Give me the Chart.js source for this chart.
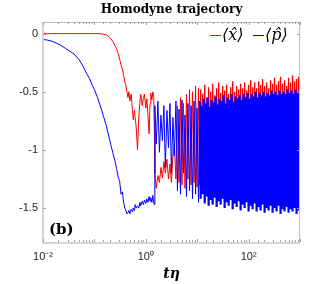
<!DOCTYPE html>
<html><head><meta charset="utf-8">
<script src="https://cdn.jsdelivr.net/npm/chart.js@4.4.0/dist/chart.umd.min.js"></script>
<style>html,body{margin:0;padding:0;background:#fff;}#wrap{width:332px;height:284px;position:relative;}</style>
</head><body><div id="wrap"><canvas id="c"></canvas></div>
<script>
// time axis t*eta (log scale)
const tEta = [
 0.01,0.012,0.015,0.018,0.022,0.027,0.033,0.04,0.05,0.06,0.07,0.08,0.09,0.1,0.115,0.13,0.15,0.17,0.19,0.21,0.23,0.25,0.27,0.29,0.31,0.33,0.35,0.37,0.39,0.41,0.43,
 0.45,0.47,0.49,0.52,0.55,0.57,0.6,0.62,0.65,0.69,0.73,0.77,0.8,0.85,0.9,0.94,1.0,1.05,1.1,1.16,1.21,1.25,1.31,1.37,1.43,1.47,
 1.5,1.6,1.72,1.84,1.97,2.1,2.25,2.4,2.58,2.76,2.95,3.15,3.37,3.6,3.86,4.13,4.42,4.73,5.06,5.4,5.8,6.2,6.6,7.1,7.6,8.1,8.7,9.3,9.9,10.6,
 11.2,11.7,12.2,12.8,13.4,14.0,14.6,15.3,16.0,16.7,17.5,18.3,19.1,20.0,20.9,21.9,22.9,23.9,25.0,26.2,27.4,28.6,29.9,31.3,32.7,34.2,35.8,37.4,39.1,40.9,
 42.8,44.8,46.8,49.0,51.2,53.5,56.0,58.6,61.2,64.0,67.0,70.0,73.2,76.6,80.1,83.8,87.6,91.6,95.8,100,105,110,115,120,125,131,137,143,150,157,
 164,171,179,187,196,205,214,224,234,245,256,268,280,293,306,320,335,350,366,383,400,419,438,458,479,501,524,548,573,599,
 626,655,685,716,749,783,819,856,895,936,979,1000
];
// -<x> (red)
const negX = [
 0,0,0,0,0,0,0,0,0,0,0,0,0,0,0,0,-0.005,-0.012,-0.025,-0.045,-0.07,-0.10,-0.13,-0.17,-0.22,-0.27,-0.30,-0.36,-0.41,-0.45,-0.50,
 -0.55,-0.50,-0.58,-0.52,-0.66,-0.74,-0.66,-0.72,-0.80,-1.00,-0.72,-0.58,-0.52,-0.62,-0.55,-0.52,-0.64,-0.56,-0.70,-0.86,-0.60,-0.51,-0.57,-0.50,-0.55,-0.85,
 -1.20,-1.33,-1.22,-1.28,-1.15,-1.24,-1.10,-1.20,-1.08,-1.25,-1.12,-1.28,-1.06,-0.95,-1.25,-0.62,-1.28,-0.55,-1.30,-0.60,-1.33,-0.52,-1.25,-0.48,-1.30,-0.50,-1.28,-0.45,-1.32,-0.47,
 -1.30,-0.48,-1.22,-0.52,-1.32,-0.44,-1.25,-0.55,-1.28,-0.46,-1.20,-0.50,-1.33,-0.43,-1.26,-0.53,-1.30,-0.47,-1.24,-0.42,-1.31,-0.51,-1.27,-0.45,-1.33,-0.49,-1.25,-0.44,-1.30,-0.52,
 -1.28,-0.46,-1.34,-0.41,-1.26,-0.50,-1.31,-0.45,-1.29,-0.48,-1.35,-0.43,-1.27,-0.47,-1.32,-0.42,-1.30,-0.49,-1.36,-0.44,-1.29,-0.40,-1.33,-0.46,-1.31,-0.42,-1.37,-0.47,-1.30,-0.41,
 -1.34,-0.44,-1.32,-0.39,-1.38,-0.45,-1.31,-0.42,-1.35,-0.47,-1.33,-0.40,-1.38,-0.43,-1.32,-0.38,-1.36,-0.44,-1.34,-0.41,-1.39,-0.37,-1.33,-0.43,-1.37,-0.40,-1.35,-0.45,-1.40,-0.38,
 -1.34,-0.42,-1.38,-0.36,-1.36,-0.41,-1.40,-0.39,-1.35,-0.37,-1.39,-0.42
];
// -<p> (blue)
const negP = [
 -0.05,-0.055,-0.065,-0.08,-0.10,-0.125,-0.15,-0.175,-0.22,-0.28,-0.34,-0.385,-0.44,-0.48,-0.55,-0.62,-0.71,-0.79,-0.88,-0.96,-1.03,-1.09,-1.16,-1.23,-1.27,-1.38,-1.36,-1.45,-1.50,-1.52,-1.55,
 -1.54,-1.52,-1.55,-1.51,-1.53,-1.50,-1.52,-1.47,-1.50,-1.48,-1.50,-1.45,-1.48,-1.44,-1.47,-1.43,-1.46,-1.42,-1.45,-1.40,-1.44,-1.41,-1.45,-1.39,-1.46,-1.47,
 -0.62,-0.95,-0.58,-1.02,-0.70,-0.92,-0.62,-1.15,-0.66,-0.98,-0.60,-1.20,-0.72,-1.05,-0.58,-1.35,-0.65,-1.38,-0.57,-1.20,-0.70,-1.40,-0.60,-1.35,-0.62,-1.42,-0.58,-1.38,-0.64,-1.45,
 -0.58,-1.42,-0.62,-1.38,-0.56,-1.46,-0.60,-1.40,-0.55,-1.48,-0.63,-1.43,-0.57,-1.47,-0.59,-1.41,-0.54,-1.49,-0.61,-1.44,-0.56,-1.47,-0.58,-1.42,-0.53,-1.50,-0.60,-1.45,-0.55,-1.48,
 -0.57,-1.43,-0.52,-1.51,-0.59,-1.46,-0.54,-1.49,-0.56,-1.44,-0.53,-1.52,-0.57,-1.47,-0.52,-1.50,-0.55,-1.45,-0.51,-1.53,-0.56,-1.48,-0.52,-1.51,-0.54,-1.46,-0.50,-1.53,-0.55,-1.49,
 -0.51,-1.52,-0.53,-1.47,-0.50,-1.54,-0.54,-1.50,-0.51,-1.52,-0.53,-1.48,-0.49,-1.54,-0.52,-1.50,-0.50,-1.53,-0.53,-1.48,-0.49,-1.55,-0.52,-1.51,-0.50,-1.53,-0.52,-1.49,-0.48,-1.54,
 -0.51,-1.51,-0.49,-1.53,-0.52,-1.50,-0.48,-1.55,-0.51,-1.52,-0.49,-1.50
];
const xTickLabels = {"-2":"10\u207B\u00B2","0":"10\u2070","2":"10\u00B2"};
const yTickValues = [0,-0.5,-1,-1.5];
const yTickLabels = ["0","-0.5","-1","-1.5"];
const titleText = "Homodyne trajectory";
const xAxisLabel = "t\u03B7";
const panelLabel = "(b)";
const legendLabels = ["\u27E8x\u0302\u27E9","\u27E8p\u0302\u27E9"];
const seriesColors = ["#ff0000","#0000ff"];
const denseFrom = 11; // t*eta beyond which traces are drawn as a dense band

const decor = {
  id:'decor',
  afterDatasetsDraw(chart){
    const {ctx, chartArea:a, scales:{x,y}} = chart;
    ctx.save();
    ctx.strokeStyle='#bdbdbd'; ctx.lineWidth=1;
    ctx.strokeRect(a.left+0.5, a.top+0.5, a.right-a.left-1, a.bottom-a.top-1);
    ctx.strokeStyle='#d4d4d4'; ctx.lineWidth=2;
    ctx.beginPath(); ctx.moveTo(a.left, a.top); ctx.lineTo(a.left, a.bottom); ctx.lineTo(a.right, a.bottom); ctx.stroke();
    ctx.strokeStyle='#a0a0a0'; ctx.lineWidth=1;
    ctx.beginPath();
    x.ticks.forEach(t=>{
      const px=Math.round(x.getPixelForValue(t.value))+0.5;
      const e=Math.log10(t.value); const maj=Math.abs(e-Math.round(e))<1e-6; const L=maj?3:2;
      ctx.moveTo(px,a.bottom-1); ctx.lineTo(px,a.bottom-1-L);
      ctx.moveTo(px,a.top); ctx.lineTo(px,a.top+L);
    });
    y.ticks.forEach(t=>{
      const py=Math.round(y.getPixelForValue(t.value))+0.5;
      ctx.moveTo(a.left,py); ctx.lineTo(a.left+3,py);
      ctx.moveTo(a.right,py); ctx.lineTo(a.right-3,py);
    });
    ctx.stroke();
    const lx = a.right-90, ly = a.top+13;
    ctx.font = "italic 16px 'DejaVu Serif'";
    ctx.textBaseline='alphabetic'; ctx.textAlign='left';
    ctx.lineWidth=1;
    ctx.strokeStyle=seriesColors[0]; ctx.beginPath(); ctx.moveTo(lx,ly+0.5); ctx.lineTo(lx+11,ly+0.5); ctx.stroke();
    ctx.fillStyle='#000'; ctx.fillText(legendLabels[0], lx+12, ly+5);
    ctx.strokeStyle=seriesColors[1]; ctx.beginPath(); ctx.moveTo(lx+43,ly+0.5); ctx.lineTo(lx+54,ly+0.5); ctx.stroke();
    ctx.fillText(legendLabels[1], lx+55, ly+5);
    ctx.font = "bold 15px 'DejaVu Serif'";
    ctx.fillText(panelLabel, a.left+6, a.bottom-9);
    ctx.restore();
  },
  afterDraw(chart){
    const {ctx, chartArea:a} = chart;
    ctx.save();
    ctx.fillStyle='#000'; ctx.textAlign='center'; ctx.textBaseline='alphabetic';
    ctx.font = "bold 12px 'DejaVu Serif'";
    ctx.fillText(titleText, (a.left+a.right)/2, 13);
    ctx.font = "bold italic 14px 'DejaVu Serif'";
    ctx.fillText(xAxisLabel, (a.left+a.right)/2, 278);
    ctx.restore();
  }
};

const widthFor = (w) => (c) => c.p0.parsed.x >= denseFrom ? w : 1;

new Chart(document.getElementById('c'), {
  type:'line',
  data:{datasets:[
    {label:legendLabels[0], data:tEta.map((t,i)=>({x:t,y:negX[i]})), borderColor:seriesColors[0], borderWidth:1, pointRadius:0, tension:0, order:1, segment:{borderWidth:widthFor(1.3)}},
    {label:legendLabels[1], data:tEta.map((t,i)=>({x:t,y:negP[i]})), borderColor:seriesColors[1], borderWidth:1, pointRadius:0, tension:0, order:0, segment:{borderWidth:widthFor(2.2)}}
  ]},
  options:{
    animation:false, responsive:true, maintainAspectRatio:false,
    layout:{padding:{top:22,right:32,left:0,bottom:0}},
    plugins:{legend:{display:false}, tooltip:{enabled:false}, title:{display:false}},
    scales:{
      x:{type:'logarithmic', min:0.01, max:1000,
        afterFit:s=>{s.height=41;},
        grid:{display:false, drawTicks:false}, border:{display:false},
        ticks:{autoSkip:false, maxRotation:0, padding:7, color:'#262626', font:{family:'Liberation Sans', size:11},
          callback:(v)=>{const l=Math.log10(v); const e=Math.round(l); if(Math.abs(l-e)<1e-6 && xTickLabels[e]!==undefined) return xTickLabels[e]; return '';}}
      },
      y:{type:'linear', min:-1.8, max:0.1,
        afterBuildTicks:s=>{s.ticks=yTickValues.map(v=>({value:v}));},
        afterFit:s=>{s.width=43;},
        grid:{display:false, drawTicks:false}, border:{display:false},
        ticks:{padding:5, color:'#262626', font:{family:'Liberation Sans', size:11},
          callback:(v)=>{const i=yTickValues.indexOf(v); return i>=0?yTickLabels[i]:'';}}
      }
    }
  },
  plugins:[decor]
});
</script></body></html>
